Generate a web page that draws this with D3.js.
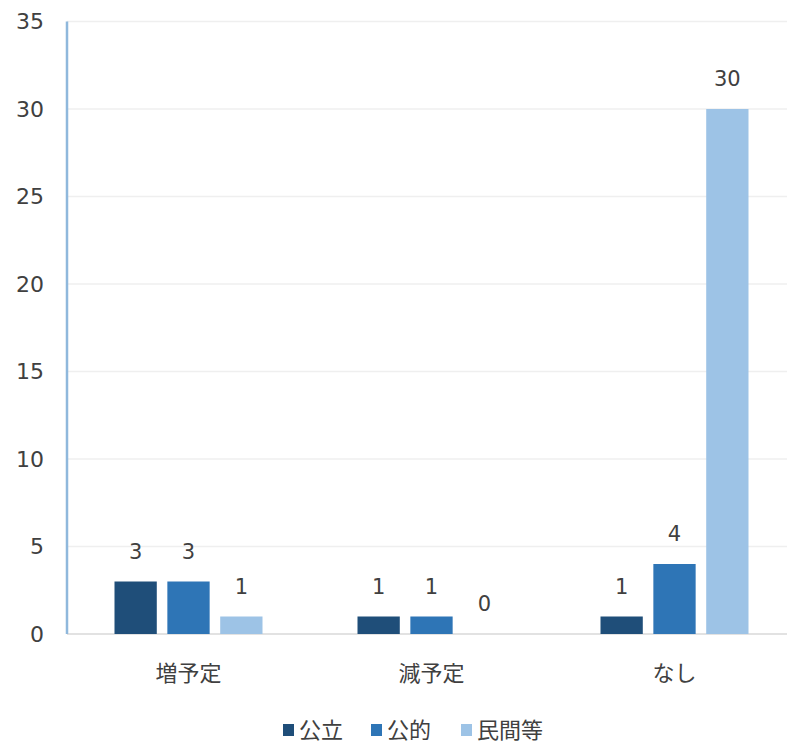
<!DOCTYPE html>
<html>
<head>
<meta charset="utf-8">
<script src="https://cdn.jsdelivr.net/npm/d3@7"></script>
<style>
  body { margin: 0; background: #fff; }
  text { font-family: "Noto Sans CJK JP", "Noto Sans", sans-serif; fill: #404040; }
</style>
</head>
<body>
<div id="chart"></div>
<script>
// data
const categories = ["増予定", "減予定", "なし"];
const seriesNames = ["公立", "公的", "民間等"];
const koritsu = [3, 1, 1];
const koteki = [3, 1, 4];
const minkan = [1, 0, 30];
const yTicks = [0, 5, 10, 15, 20, 25, 30, 35];
const colors = ["#1f4e79", "#2e75b6", "#9dc3e6"];

const width = 787, height = 743;
const plotLeft = 67, plotRight = 796, plotTop = 21.5, plotBottom = 634;

const svg = d3.select("#chart")
  .append("svg")
  .attr("width", width)
  .attr("height", height);

const x = d3.scaleBand()
  .domain(categories)
  .range([plotLeft, plotRight]);

const xInner = d3.scaleBand()
  .domain(seriesNames)
  .range([47.5, x.bandwidth() - 47.5])
  .paddingInner(0.2);

const y = d3.scaleLinear()
  .domain([0, 35])
  .range([plotBottom, plotTop]);

// gridlines
svg.append("g")
  .selectAll("line")
  .data(yTicks)
  .join("line")
  .attr("x1", plotLeft)
  .attr("x2", width)
  .attr("y1", d => y(d))
  .attr("y2", d => y(d))
  .attr("stroke", d => d === 0 ? "#d9d9d9" : "#efefef")
  .attr("stroke-width", 1.5);

// y axis line
svg.append("line")
  .attr("x1", plotLeft).attr("x2", plotLeft)
  .attr("y1", y(35)).attr("y2", plotBottom)
  .attr("stroke", "#8fb8dc")
  .attr("stroke-width", 2.5);

// y tick labels
svg.append("g")
  .selectAll("text")
  .data(yTicks)
  .join("text")
  .attr("x", 44)
  .attr("y", d => y(d))
  .attr("dy", "0.35em")
  .attr("text-anchor", "end")
  .style("font-size", "22px")
  .style("font-family", "'DejaVu Sans', sans-serif")
  .text(d => d);

const rows = categories.map((c, i) => ({
  cat: c,
  vals: [koritsu[i], koteki[i], minkan[i]]
}));

const groups = svg.append("g")
  .selectAll("g")
  .data(rows)
  .join("g")
  .attr("transform", d => `translate(${x(d.cat)},0)`);

groups.selectAll("rect")
  .data(d => d.vals.map((v, j) => ({ name: seriesNames[j], v: v, j: j })))
  .join("rect")
  .attr("x", d => xInner(d.name))
  .attr("width", xInner.bandwidth())
  .attr("y", d => y(d.v))
  .attr("height", d => plotBottom - y(d.v))
  .attr("fill", d => colors[d.j]);

groups.selectAll("text")
  .data(d => d.vals.map((v, j) => ({ name: seriesNames[j], v: v })))
  .join("text")
  .attr("x", d => xInner(d.name) + xInner.bandwidth() / 2)
  .attr("y", d => y(d.v) - 23)
  .attr("text-anchor", "middle")
  .style("font-size", "21px")
  .style("font-family", "'DejaVu Sans', sans-serif")
  .text(d => d.v);

// category labels
svg.append("g")
  .selectAll("text")
  .data(categories)
  .join("text")
  .attr("x", d => x(d) + x.bandwidth() / 2)
  .attr("y", 673)
  .attr("dy", "0.35em")
  .attr("text-anchor", "middle")
  .style("font-size", "22px")
  .text(d => d);

// legend
const legendX = [283, 371, 461];
const legend = svg.append("g")
  .selectAll("g")
  .data(seriesNames)
  .join("g")
  .attr("transform", (d, i) => `translate(${legendX[i]},729)`);

legend.append("rect")
  .attr("x", 0).attr("y", -5)
  .attr("width", 11).attr("height", 12)
  .attr("fill", (d, i) => colors[i]);

legend.append("text")
  .attr("x", 16)
  .attr("y", 1)
  .attr("dy", "0.35em")
  .style("font-size", "22px")
  .text(d => d);
</script>
</body>
</html>
